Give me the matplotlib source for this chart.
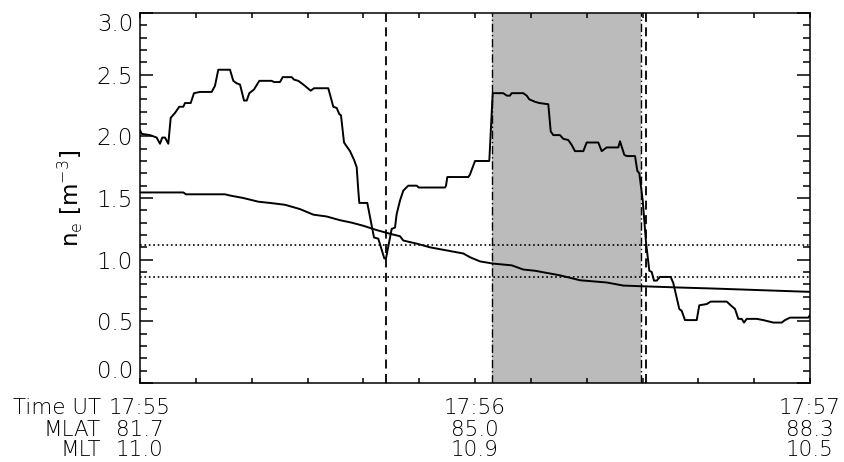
import matplotlib
matplotlib.use('Agg')
import matplotlib.pyplot as plt
from matplotlib.ticker import MultipleLocator, FixedLocator
import matplotlib.transforms as mtransforms

# time in seconds after 17:55 UT
t_obs = [0, 0.3, 1.79, 2.99, 3.58, 3.99, 4.48, 5.07, 5.50, 6.27, 7.04, 7.76, 8.06, 9.08, 9.67,
         10.75, 12.84, 13.43, 14.02, 16.12, 16.71, 17.32, 17.91, 18.63, 19.11, 19.58, 20.42,
         21.37, 23.59, 24.0, 25.07, 25.56, 27.17, 27.58, 28.35, 29.25, 30.57, 31.16, 33.72,
         34.62, 35.23, 35.70, 36.0, 36.54, 37.61, 38.33, 38.81, 39.10, 39.28, 40.71, 41.91,
         42.68, 43.76, 44.06, 45.08, 45.67, 45.97, 46.57, 47.16, 48.05, 49.56, 49.92, 54.63,
         54.81, 55.04, 58.80, 59.10, 60.0, 62.56, 63.17, 65.07, 65.68, 66.27, 66.57, 68.65,
         69.26, 69.72, 70.75, 71.52, 73.13, 73.56, 74.02, 75.22, 75.81, 76.71, 77.32, 77.91,
         79.40, 80.0, 82.08, 82.69, 83.58, 85.67, 85.97, 86.74, 87.17, 88.66, 89.07, 89.43,
         90.04, 90.63, 91.22, 91.65, 92.06, 92.54, 93.13, 95.05, 95.52, 96.59, 97.02, 97.61,
         99.71, 100.17, 101.50, 102.21, 105.08, 105.80, 106.57, 107.16, 107.77, 108.18,
         108.66, 110.45, 111.64, 113.43, 114.93, 115.52, 116.42, 119.70, 120.0]
ne_obs = [2.05, 2.02, 2.01, 1.99, 1.94, 1.99, 1.99, 1.94, 2.15, 2.19, 2.24, 2.24, 2.27, 2.27, 2.35,
          2.36, 2.36, 2.41, 2.54, 2.54, 2.45, 2.43, 2.42, 2.29, 2.29, 2.35, 2.38,
          2.45, 2.45, 2.44, 2.44, 2.48, 2.48, 2.46, 2.45, 2.42, 2.37, 2.39, 2.39,
          2.24, 2.23, 2.18, 2.17, 1.95, 1.88, 1.81, 1.75, 1.56, 1.46, 1.46, 1.18,
          1.17, 1.01, 1.01, 1.25, 1.26, 1.37, 1.48, 1.56, 1.60, 1.60, 1.585, 1.585,
          1.60, 1.67, 1.67, 1.69, 1.80, 1.80, 2.35, 2.35, 2.33, 2.33, 2.35, 2.35,
          2.33, 2.30, 2.28, 2.27, 2.26, 2.04, 2.01, 2.01, 1.98, 1.97, 1.93, 1.88,
          1.88, 1.95, 1.95, 1.88, 1.91, 1.91, 1.96, 1.85, 1.84, 1.84, 1.72, 1.70,
          1.48, 1.14, 0.91, 0.90, 0.83, 0.83, 0.86, 0.86, 0.81, 0.60, 0.585, 0.51,
          0.51, 0.63, 0.64, 0.66, 0.66, 0.63, 0.60, 0.52, 0.52, 0.49,
          0.52, 0.52, 0.51, 0.49, 0.49, 0.51, 0.53, 0.53, 0.55]

t_model = [0, 7.76, 8.24, 15.22, 16.12, 18.5, 21.19, 23.28, 25.97, 28.66, 31.04, 33.44, 35.82,
           37.92, 39.99, 42.39, 44.78, 46.57, 47.16, 49.56, 51.94, 55.52, 57.91, 59.10, 60.90,
           63.28, 66.57, 68.65, 70.75, 75.22, 78.81, 83.58, 86.56, 89.55, 96.72, 102.69,
           111.64, 120.0]
ne_model = [1.545, 1.545, 1.53, 1.53, 1.52, 1.50, 1.47, 1.46, 1.445, 1.41, 1.365, 1.35, 1.32,
            1.30, 1.275, 1.24, 1.21, 1.19, 1.155, 1.13, 1.10, 1.07, 1.05, 1.02, 0.986,
            0.968, 0.954, 0.92, 0.91, 0.873, 0.833, 0.815, 0.79, 0.785, 0.774, 0.766,
            0.752, 0.739]

dashed_times = [44.06, 90.6]
region = [63.1, 89.7]
thresholds = [1.12, 0.86]

tick_sec = [0, 60, 120]
time_labels = ['17:55', '17:56', '17:57']
mlat_labels = ['81.7', '85.0', '88.3']
mlt_labels = ['11.0', '10.9', '10.5']
row_names = ['Time UT', 'MLAT', 'MLT']

FS = 16.5
FS_ROW = 15.5
plt.rcParams['font.family'] = ['DejaVu Sans']
plt.rcParams['font.weight'] = 'light'
plt.rcParams['mathtext.fontset'] = 'custom'
plt.rcParams['mathtext.rm'] = 'DejaVu Sans:weight=light'
plt.rcParams['mathtext.default'] = 'rm'

fig = plt.figure(figsize=(8.44, 4.62), dpi=100)
ax = fig.add_axes([140 / 844, 1 - 383 / 462, 670 / 844, 370 / 462])

ax.axvspan(region[0], region[1], color='#bbbbbb', lw=0, zorder=0)
for xr in region:
    ax.axvline(xr, color='k', ls='-.', lw=1.0, dashes=(6, 2, 1, 2), zorder=1)
for xd in dashed_times:
    ax.axvline(xd, color='k', ls='--', lw=1.3, dashes=(5, 3), zorder=1)
for yh in thresholds:
    ax.axhline(yh, color='k', ls=':', lw=1.2, zorder=1)

ax.plot(t_obs, ne_obs, color='k', lw=1.4, zorder=3)
ax.plot(t_model, ne_model, color='k', lw=1.4, zorder=3)

ax.set_xlim(0, 120)
ax.set_ylim(0, 3.0)

ax.xaxis.set_major_locator(FixedLocator(tick_sec))
ax.xaxis.set_minor_locator(MultipleLocator(10))
ax.set_xticklabels([])
ax.yaxis.set_major_locator(MultipleLocator(0.5))
ax.yaxis.set_minor_locator(MultipleLocator(0.1))
ax.tick_params(axis='both', which='both', direction='in', top=True, right=True, width=1.1)
ax.tick_params(axis='y', which='major', length=9.5, labelsize=FS, pad=5)
ax.tick_params(axis='y', which='minor', length=5)
ax.tick_params(axis='x', which='both', length=3.5)
ax.set_yticks([0, 0.5, 1.0, 1.5, 2.0, 2.5, 3.0])
ax.set_yticklabels(['0.0', '0.5', '1.0', '1.5', '2.0', '2.5', '3.0'])
labels = ax.get_yticklabels()
labels[0].set_va('bottom')
labels[-1].set_va('top')
for sp in ax.spines.values():
    sp.set_linewidth(1.1)

ax.set_ylabel(r'n$_{e}$ [m$^{-3}$]', fontsize=FS)
ax.yaxis.set_label_coords(-0.082, 0.5)

# label rows under the axis: time, MLAT, MLT
trans = mtransforms.blended_transform_factory(ax.transData, ax.transAxes)
row_y = [(383 - 408.5) / 370, (383 - 429.5) / 370, (383 - 450.5) / 370]
rows = [time_labels, mlat_labels, mlt_labels]
for ry, name, vals in zip(row_y, row_names, rows):
    ax.text(-7.0, ry, name, transform=trans, ha='right', va='center', fontsize=FS_ROW)
    for xs, v in zip(tick_sec, vals):
        ax.text(xs, ry, v, transform=trans, ha='center', va='center', fontsize=FS_ROW)

fig.savefig('out.png', dpi=100)
